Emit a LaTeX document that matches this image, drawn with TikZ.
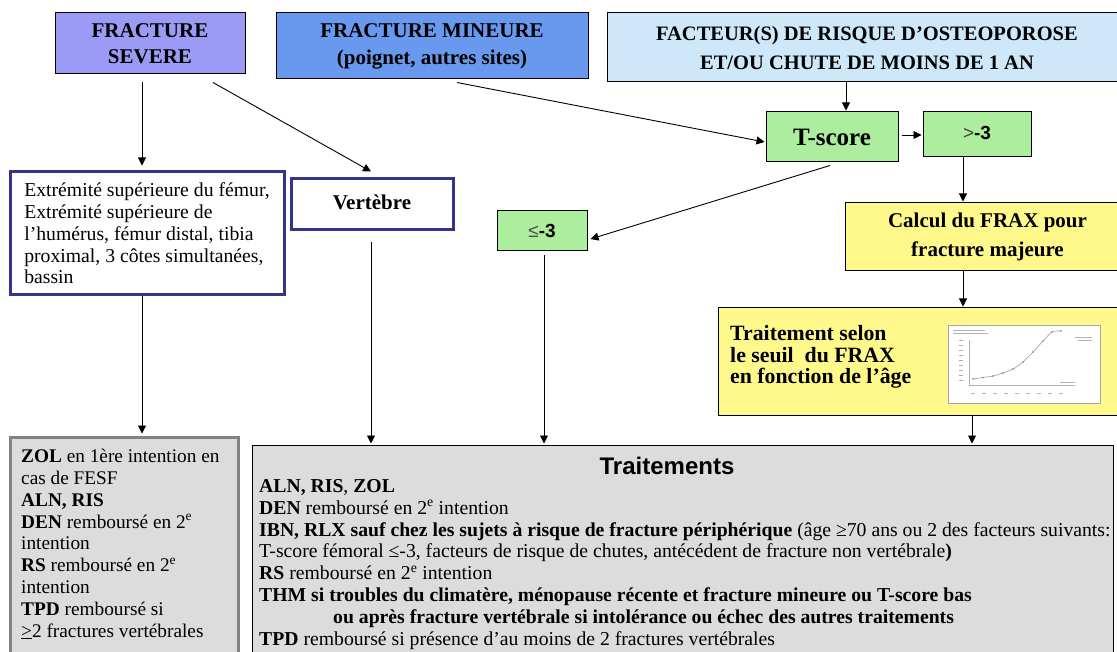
\documentclass[tikz,border=0pt]{standalone}
\usepackage{fontspec}
\setmainfont{Liberation Serif}
\setsansfont{Liberation Sans}
\usetikzlibrary{arrows.meta,calc}
\definecolor{sevc}{RGB}{155,155,245}
\definecolor{minc}{RGB}{104,153,238}
\definecolor{facc}{RGB}{206,232,250}
\definecolor{grnc}{RGB}{172,238,158}
\definecolor{yelc}{RGB}{255,249,140}
\definecolor{grayc}{RGB}{220,220,220}
\definecolor{bluec}{RGB}{52,52,140}
\definecolor{zolb}{RGB}{130,130,130}
\newcommand{\fsz}[2]{\fontsize{#1}{#2}\selectfont}
\tikzset{
  bx/.style={draw=black, line width=1pt, inner sep=0pt, align=center},
  bluebox/.style={draw=bluec, line width=3pt, fill=white, inner sep=0pt},
  arr/.style={line width=0.9pt, -{Triangle[length=8pt,width=8pt]}},
  chartln/.style={gray!60, line width=0.6pt},
}
\begin{document}
\begin{tikzpicture}[x=1pt,y=-1pt]
\clip (0,0) rectangle (1117,652);
\fill[white] (0,0) rectangle (1117,652);

% top row
\node[bx, fill=sevc, minimum width=190pt, minimum height=61pt, font=\bfseries\fsz{21}{25.5}] (sev) at (150,43.5) {FRACTURE\\SEVERE};
\node[bx, fill=minc, minimum width=312pt, minimum height=66pt, font=\bfseries\fsz{21}{27}] (min) at (432,46) {FRACTURE MINEURE\\(poignet, autres sites)};
\node[bx, fill=facc, minimum width=520pt, minimum height=69pt, font=\bfseries\fsz{20.5}{29}] (fac) at (867,47.5) {FACTEUR(S) DE RISQUE D’OSTEOPOROSE\\ET/OU CHUTE DE MOINS DE 1 AN};

% T-score branch
\node[bx, fill=grnc, minimum width=132pt, minimum height=50pt, font=\bfseries\fsz{25}{25}] (ts) at (832,137) {T-score};
\node[bx, fill=grnc, minimum width=108pt, minimum height=45pt, font=\sffamily\fsz{19}{19}] (gt) at (977,134.5) {\raisebox{3pt}{\textcolor{black!75}{>}\textbf{-3}}};
\node[bx, fill=grnc, minimum width=90pt, minimum height=40pt, font=\sffamily\fsz{19}{19}] (le) at (542,231) {\textcolor{black!70}{≤}\textbf{-3}};

% severe fracture boxes
\node[bluebox, minimum width=274pt, minimum height=123pt, align=left, font=\fsz{19.7}{21.7}] (ext) at (147,233.5)
  {Extrémité supérieure du fémur,\\Extrémité supérieure de\\l’humérus, fémur distal, tibia\\proximal, 3 côtes simultanées,\\bassin};
\node[bluebox, minimum width=162pt, minimum height=51pt, font=\bfseries\fsz{21}{21}] (vert) at (372,204.5) {\raisebox{5pt}{Vertèbre}};

% FRAX
\node[bx, fill=yelc, minimum width=285pt, minimum height=68pt, font=\bfseries\fsz{21}{29}] (frxcalc) at (987.5,237) {Calcul du FRAX pour\\fracture majeure};
\node[bx, fill=yelc, minimum width=412pt, minimum height=107pt] (frax) at (924,361.5) {};
\node[anchor=west, align=left, inner sep=0pt, font=\bfseries\fsz{21.8}{21.7}] (fraxtxt) at (730,357) {Traitement selon\\le seuil\ \ du FRAX\\en fonction de l’âge};
\node[draw=gray!70, fill=white, line width=0.8pt, minimum width=152pt, minimum height=78pt, inner sep=0pt] (chart) at (1024,364) {};
\draw[chartln] (969,340) -- (969,385) -- (1075,385);
\draw[gray!70, line width=0.7pt] plot[smooth] coordinates {(973,379) (983,377.5) (993,376) (1003,373) (1013,369) (1023,362) (1033,352) (1043,341) (1052,332) (1061,331)};
\foreach \px/\py in {973/379,983/377.5,993/376,1003/373,1013/369,1023/362,1033/352,1043/341,1052/332,1061/331}
  \fill[gray] (\px,\py) circle (0.9pt);
\draw[chartln] (953,330) -- (985,330) (953,333.5) -- (988,333.5);
\foreach \yy in {340,345,...,382} \draw[chartln] (959,\yy) -- (963,\yy);
\foreach \xx in {973,984,...,1062} \draw[chartln] (\xx-2,393) -- (\xx+2,393);
\draw[chartln] (1075,337) -- (1092,337) (1078,340.5) -- (1092,340.5) (1060,382) -- (1075,382);

% treatment boxes
\node[draw=zolb, line width=3pt, fill=grayc, minimum width=228pt, minimum height=233pt, inner sep=0pt] (zol) at (124,553.5) {};
\node[anchor=north west, align=left, inner sep=0pt, font=\fsz{19.3}{21.8}] (zolbody) at (21,449)
  {\textbf{ZOL} en 1ère intention en\\cas de FESF\\\textbf{ALN, RIS}\\\textbf{DEN} remboursé en 2\textsuperscript{e}\\intention\\\textbf{RS} remboursé en 2\textsuperscript{e}\\intention\\\textbf{TPD} remboursé si\\\underline{>}2 fractures vertébrales};

\node[draw=black, line width=1pt, fill=grayc, minimum width=861pt, minimum height=225pt, inner sep=0pt] (trait) at (682.5,557.5) {};
\node[font=\sffamily\bfseries\fsz{24}{24}, inner sep=0pt] (traittitle) at (667,466) {Traitements};
\node[anchor=north west, align=left, inner sep=0pt, font=\fsz{19.7}{21.9}] (traitbody) at (259,479)
  {\textbf{ALN, RIS}, \textbf{ZOL}\\
   \textbf{DEN} remboursé en 2\textsuperscript{e} intention\\
   \textbf{IBN, RLX sauf chez les sujets à risque de fracture périphérique} (âge ≥70 ans ou 2 des facteurs suivants:\\
   T-score fémoral ≤-3, facteurs de risque de chutes, antécédent de fracture non vertébrale\textbf{)}\\
   \textbf{RS} remboursé en 2\textsuperscript{e} intention\\
   \textbf{THM si troubles du climatère, ménopause récente et fracture mineure ou T-score bas}\\
   \hspace*{74pt}\textbf{ou après fracture vertébrale si intolérance ou échec des autres traitements}\\
   \textbf{TPD} remboursé si présence d’au moins de 2 fractures vertébrales};

% connectors
\draw[arr] ($(sev.south)+(-8,8)$) -- ($(ext.north)+(-5,-5)$);
\draw[arr] ($(sev.south)+(63,8)$) -- ($(vert.north)+(-1,-6)$);
\draw[arr] ($(min.south)+(25,3)$) -- ($(ts.west)+(-1,5)$);
\draw[arr] ($(fac.south)+(-21,0)$) -- ($(ts.north)+(14,-1)$);
\draw[arr] ($(ts.east)+(3,-2)$) -- ($(gt.west)+(-1,0.5)$);
\draw[arr] ($(ts.south)+(-2,3)$) -- ($(le.east)+(3,8)$);
\draw[arr] ($(gt.south)+(-14,0)$) -- ($(frxcalc.north)+(-24.5,-1)$);
\draw[arr] ($(frxcalc.south)+(-24.5,0)$) -- ($(frax.north)+(39,-1)$);
\draw[arr] ($(frax.south)+(48,0)$) -- ($(trait.north)+(289.5,-1)$);
\draw[arr] ($(ext.south)+(-5,0)$) -- ($(zol.north)+(18,-2)$);
\draw[arr] ($(vert.south)+(-1,11)$) -- ($(trait.north)+(-311.5,-1)$);
\draw[arr] ($(le.south)+(2,4)$) -- ($(trait.north)+(-138.5,-1)$);
\end{tikzpicture}
\end{document}
